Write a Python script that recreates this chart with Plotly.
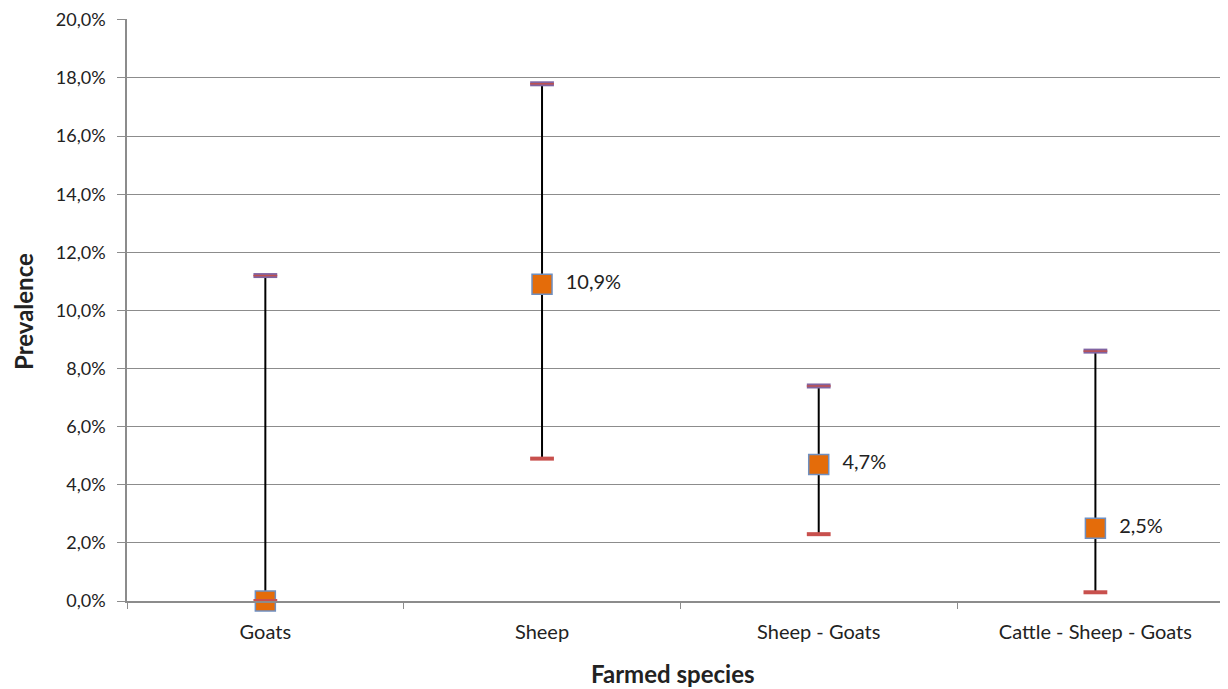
import plotly.graph_objects as go

categories = ["Goats", "Sheep", "Sheep - Goats", "Cattle - Sheep - Goats"]
prevalence = [0.0, 10.9, 4.7, 2.5]
ci_low = [0.0, 4.9, 2.3, 0.3]
ci_high = [11.2, 17.8, 7.4, 8.6]
labels = ["", "10,9%", "4,7%", "2,5%"]
y_ticks = [0, 2, 4, 6, 8, 10, 12, 14, 16, 18, 20]
y_tick_labels = ["0,0%", "2,0%", "4,0%", "6,0%", "8,0%", "10,0%",
                 "12,0%", "14,0%", "16,0%", "18,0%", "20,0%"]

FONT = "Lato, Open Sans, sans-serif"

fig = go.Figure()
# vertical CI lines
fig.add_trace(go.Scatter(
    x=categories, y=prevalence, mode="markers",
    marker=dict(size=1, color="rgba(0,0,0,0)"),
    error_y=dict(type="data", symmetric=False,
                 array=[h - v for h, v in zip(ci_high, prevalence)],
                 arrayminus=[v - l for l, v in zip(ci_low, prevalence)],
                 color="black", thickness=2, width=0),
    hoverinfo="skip", showlegend=False))
# point estimates
fig.add_trace(go.Scatter(
    x=categories, y=prevalence, mode="markers+text",
    text=["  " + t if t else "" for t in labels], textposition="middle right",
    textfont=dict(family=FONT, size=20, color="#222"),
    marker=dict(symbol="square", size=20, color="#e46c0a",
                line=dict(width=1.5, color="#6f8fc0")),
    cliponaxis=False, showlegend=False))
# upper caps (two-tone)
fig.add_trace(go.Scatter(
    x=categories, y=ci_high, mode="markers",
    marker=dict(symbol="line-ew", size=17, line=dict(width=5, color="#8064a2")),
    cliponaxis=False, showlegend=False))
fig.add_trace(go.Scatter(
    x=categories, y=ci_high, mode="markers",
    marker=dict(symbol="line-ew", size=17, line=dict(width=1.5, color="#c0504d")),
    cliponaxis=False, showlegend=False))
# lower caps
fig.add_trace(go.Scatter(
    x=categories, y=ci_low, mode="markers",
    marker=dict(symbol="line-ew", size=17, line=dict(width=4, color="#c8504d")),
    cliponaxis=False, showlegend=False))

fig.update_layout(
    width=1228, height=689,
    margin=dict(l=119, r=10, t=11, b=96),
    paper_bgcolor="white", plot_bgcolor="white",
    font=dict(family=FONT, size=18, color="#222"),
    xaxis=dict(
        type="category", range=[-0.5, 3.472], automargin=False,
        tickson="boundaries", ticks="outside", ticklen=6, tickcolor="#8c8c8c",
        showline=True, linecolor="#8c8c8c", linewidth=1.5,
        showgrid=False, zeroline=False,
        tickfont=dict(size=20), ticklabelstandoff=12,
    ),
    yaxis=dict(
        range=[0, 20.03], tickmode="array", tickvals=y_ticks,
        ticktext=y_tick_labels, automargin=False, ticklabeloverflow="allow",
        ticks="outside", ticklen=8, tickcolor="#8c8c8c",
        showline=True, linecolor="#8c8c8c", linewidth=1.5,
        showgrid=True, gridcolor="#8c8c8c", gridwidth=1,
        zeroline=False, tickfont=dict(size=18), ticklabelstandoff=8,
    ),
    annotations=[
        dict(text="<b>Farmed species</b>", xref="paper", yref="paper",
             x=0, y=0, xshift=546, yshift=-72, xanchor="center", yanchor="middle",
             showarrow=False, font=dict(family=FONT, size=24, color="#222")),
        dict(text="<b>Prevalence</b>", xref="paper", yref="paper",
             x=0, y=0.5, xshift=-104, yshift=-2, xanchor="center", yanchor="middle",
             textangle=-90, showarrow=False,
             font=dict(family=FONT, size=24, color="#222")),
    ],
)

fig.write_html("out.html")
